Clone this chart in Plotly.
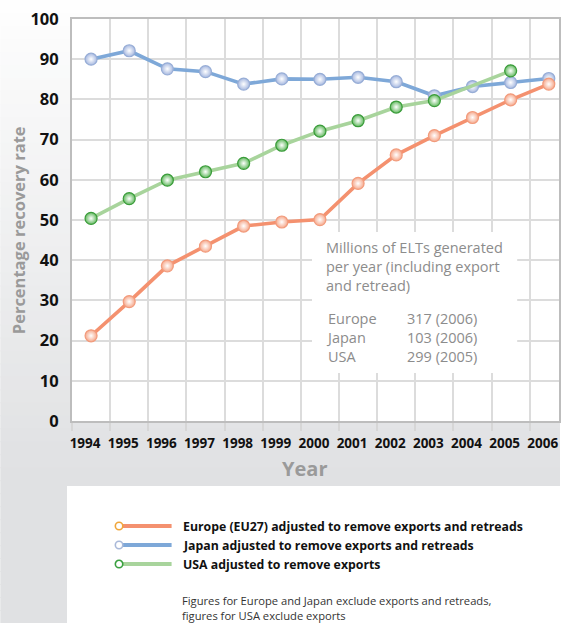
import plotly.graph_objects as go

# ---------------- data ----------------
years = list(range(1994, 2007))
europe = [21.2, 29.7, 38.6, 43.5, 48.5, 49.5, 50.1, 59.1, 66.2, 71.0, 75.5, 79.9, 83.8]
japan = [90.0, 92.1, 87.6, 86.9, 83.8, 85.1, 85.0, 85.5, 84.4, 80.9, 83.2, 84.2, 85.2]
usa = [50.4, 55.3, 59.9, 62.0, 64.1, 68.6, 72.1, 74.7, 78.1, 79.7, None, 87.1, None]

series_names = [
    "Europe (EU27) adjusted to remove exports and retreads",
    "Japan adjusted to remove exports and retreads",
    "USA adjusted to remove exports",
]
y_ticks = [0, 10, 20, 30, 40, 50, 60, 70, 80, 90, 100]
x_title = "Year"
y_title = "Percentage recovery rate"

box_header = ["Millions of ELTs generated", "per year (including export", "and retread)"]
box_regions = ["Europe", "Japan", "USA"]
box_values = ["317 (2006)", "103 (2006)", "299 (2005)"]
note_lines = ["Figures for Europe and Japan exclude exports and retreads,",
              "figures for USA exclude exports"]

# ---------------- geometry helpers ----------------
W, H = 562, 623
PL, PR, PT, PB = 72, 561, 19, 421   # plot area in pixels


def px(x):
    return (x - PL) / (PR - PL)


def py(y):
    return (PB - y) / (PB - PT)


FONT = "Open Sans"

styles = [
    dict(line="#f4916f", mk="#f6a88b", border="#f29b7c", leg="#f0a63a"),
    dict(line="#7ea8d8", mk="#a6b8e0", border="#97add6", leg="#a9b9d9"),
    dict(line="#a8d49c", mk="#62b95f", border="#3a9c3a", leg="#3aa040"),
]

fig = go.Figure()
order = [1, 2, 0]  # Japan, USA, Europe (Europe on top)
all_series = [europe, japan, usa]
for i in order:
    s = styles[i]
    fig.add_trace(go.Scatter(
        x=years, y=all_series[i], name=series_names[i],
        mode="lines+markers", connectgaps=True, cliponaxis=False,
        line=dict(color=s["line"], width=3.6),
        marker=dict(size=12, color=s["mk"], symbol="circle",
                    gradient=dict(type="radial", color="white"),
                    line=dict(color=s["border"], width=1.2)),
        showlegend=False, hoverinfo="x+y+name",
    ))

shapes = []
# background gradient bands
N = 48
for k in range(N):
    y0 = k * H / N
    y1 = (k + 1) * H / N + 1
    t = min(1.0, (y0 + y1) / 2 / 470)
    r = int(round(254 - t * (254 - 224)))
    g = int(round(254 - t * (254 - 225)))
    b = int(round(254 - t * (254 - 227)))
    shapes.append(dict(type="rect", xref="paper", yref="paper", layer="below",
                       x0=px(0), x1=px(W), y0=py(y0), y1=py(min(y1, H)),
                       fillcolor=f"rgb({r},{g},{b})", line=dict(width=0)))
# white plot area
shapes.append(dict(type="rect", xref="paper", yref="paper", layer="below",
                   x0=0, x1=1, y0=0, y1=1, fillcolor="white", line=dict(width=0)))
# legend panel
shapes.append(dict(type="rect", xref="paper", yref="paper", layer="below",
                   x0=px(67), x1=px(W), y0=py(486), y1=py(H),
                   fillcolor="white", line=dict(width=0)))
# info box (covers gridlines)
shapes.append(dict(type="rect", xref="paper", yref="paper", layer="above",
                   x0=px(313), x1=px(519), y0=py(373), y1=py(232),
                   fillcolor="white", line=dict(width=0)))

annotations = []
# legend entries
leg_y = [526, 545, 564]
for i in range(3):
    s = styles[i]
    yy = leg_y[i]
    shapes.append(dict(type="line", xref="paper", yref="paper", layer="above",
                       x0=px(118), x1=px(172), y0=py(yy), y1=py(yy),
                       line=dict(color=s["line"], width=4)))
    shapes.append(dict(type="circle", xref="paper", yref="paper", layer="above",
                       x0=px(115.5), x1=px(123), y0=py(yy + 3.7), y1=py(yy - 3.7),
                       fillcolor="white", line=dict(color=s["leg"], width=1.6)))
    annotations.append(dict(xref="paper", yref="paper", x=px(181), y=py(yy),
                            xanchor="left", yanchor="middle", showarrow=False,
                            text=f"<b>{series_names[i]}</b>",
                            font=dict(family=FONT, size=12.3, color="#111")))

# note
annotations.append(dict(xref="paper", yref="paper", x=px(180), y=py(591),
                        xanchor="left", yanchor="top", showarrow=False, align="left",
                        text="<br>".join(note_lines),
                        font=dict(family=FONT, size=11.2, color="#333")))

# info box text
box_font = dict(family=FONT, size=14.5, color="#8c8c8c")
annotations.append(dict(xref="paper", yref="paper", x=px(326), y=py(266.8),
                        xanchor="left", yanchor="middle", showarrow=False, align="left",
                        borderpad=0, text="<br>".join(box_header), font=box_font))
annotations.append(dict(xref="paper", yref="paper", x=px(326), y=py(337.5),
                        xanchor="left", yanchor="middle", showarrow=False, align="left",
                        borderpad=0, text="<br>".join(box_regions), font=box_font))
annotations.append(dict(xref="paper", yref="paper", x=px(407), y=py(337.5),
                        xanchor="left", yanchor="middle", showarrow=False, align="left",
                        borderpad=0, text="<br>".join(box_values), font=box_font))

# axis titles
annotations.append(dict(xref="paper", yref="paper", x=px(305), y=py(468),
                        xanchor="center", yanchor="middle", showarrow=False,
                        text=f"<b>{x_title}</b>",
                        font=dict(family=FONT, size=20, color="#9a9a9a")))
annotations.append(dict(xref="paper", yref="paper", x=px(18), y=py(230),
                        xanchor="center", yanchor="middle", showarrow=False,
                        textangle=-90, text=f"<b>{y_title}</b>",
                        font=dict(family=FONT, size=16.5, color="#9a9a9a")))

fig.update_layout(
    width=W, height=H,
    margin=dict(l=PL, r=W - PR, t=PT, b=H - PB, pad=0),
    paper_bgcolor="white", plot_bgcolor="white",
    shapes=shapes, annotations=annotations,
    showlegend=False,
    xaxis=dict(
        range=[1993.5, 1993.5 + (PR - PL) / 38.3],
        tickmode="array", tickvals=years, ticktext=[str(y) for y in years],
        showgrid=False, zeroline=False,
        ticks="outside", ticklen=9, tickcolor="rgba(0,0,0,0)",
        ticklabelshift=-6,
        tickfont=dict(family=FONT, size=13.5, color="#111", weight="bold"),
        showline=True, linecolor="#bdbdbd", linewidth=2, mirror=True,
        minor=dict(tick0=1993.5, dtick=1, showgrid=True, gridcolor="#dcdcdc",
                   gridwidth=1.5, ticks="outside", ticklen=8, tickcolor="#d6d6d6",
                   tickwidth=1.5),
        fixedrange=True,
    ),
    yaxis=dict(
        range=[0, 100], tickmode="array", tickvals=y_ticks,
        showgrid=True, gridcolor="#dcdcdc", gridwidth=1.5, zeroline=False,
        ticks="outside", ticklen=8, tickcolor="rgba(0,0,0,0)",
        tickfont=dict(family=FONT, size=16.5, color="#111", weight="bold"),
        showline=True, linecolor="#bdbdbd", linewidth=2, mirror=True,
        fixedrange=True,
    ),
)

fig.write_html(
    "out.html",
    config={"displayModeBar": False},
    post_script="document.body.style.margin='0px';document.body.style.overflow='hidden';",
)
